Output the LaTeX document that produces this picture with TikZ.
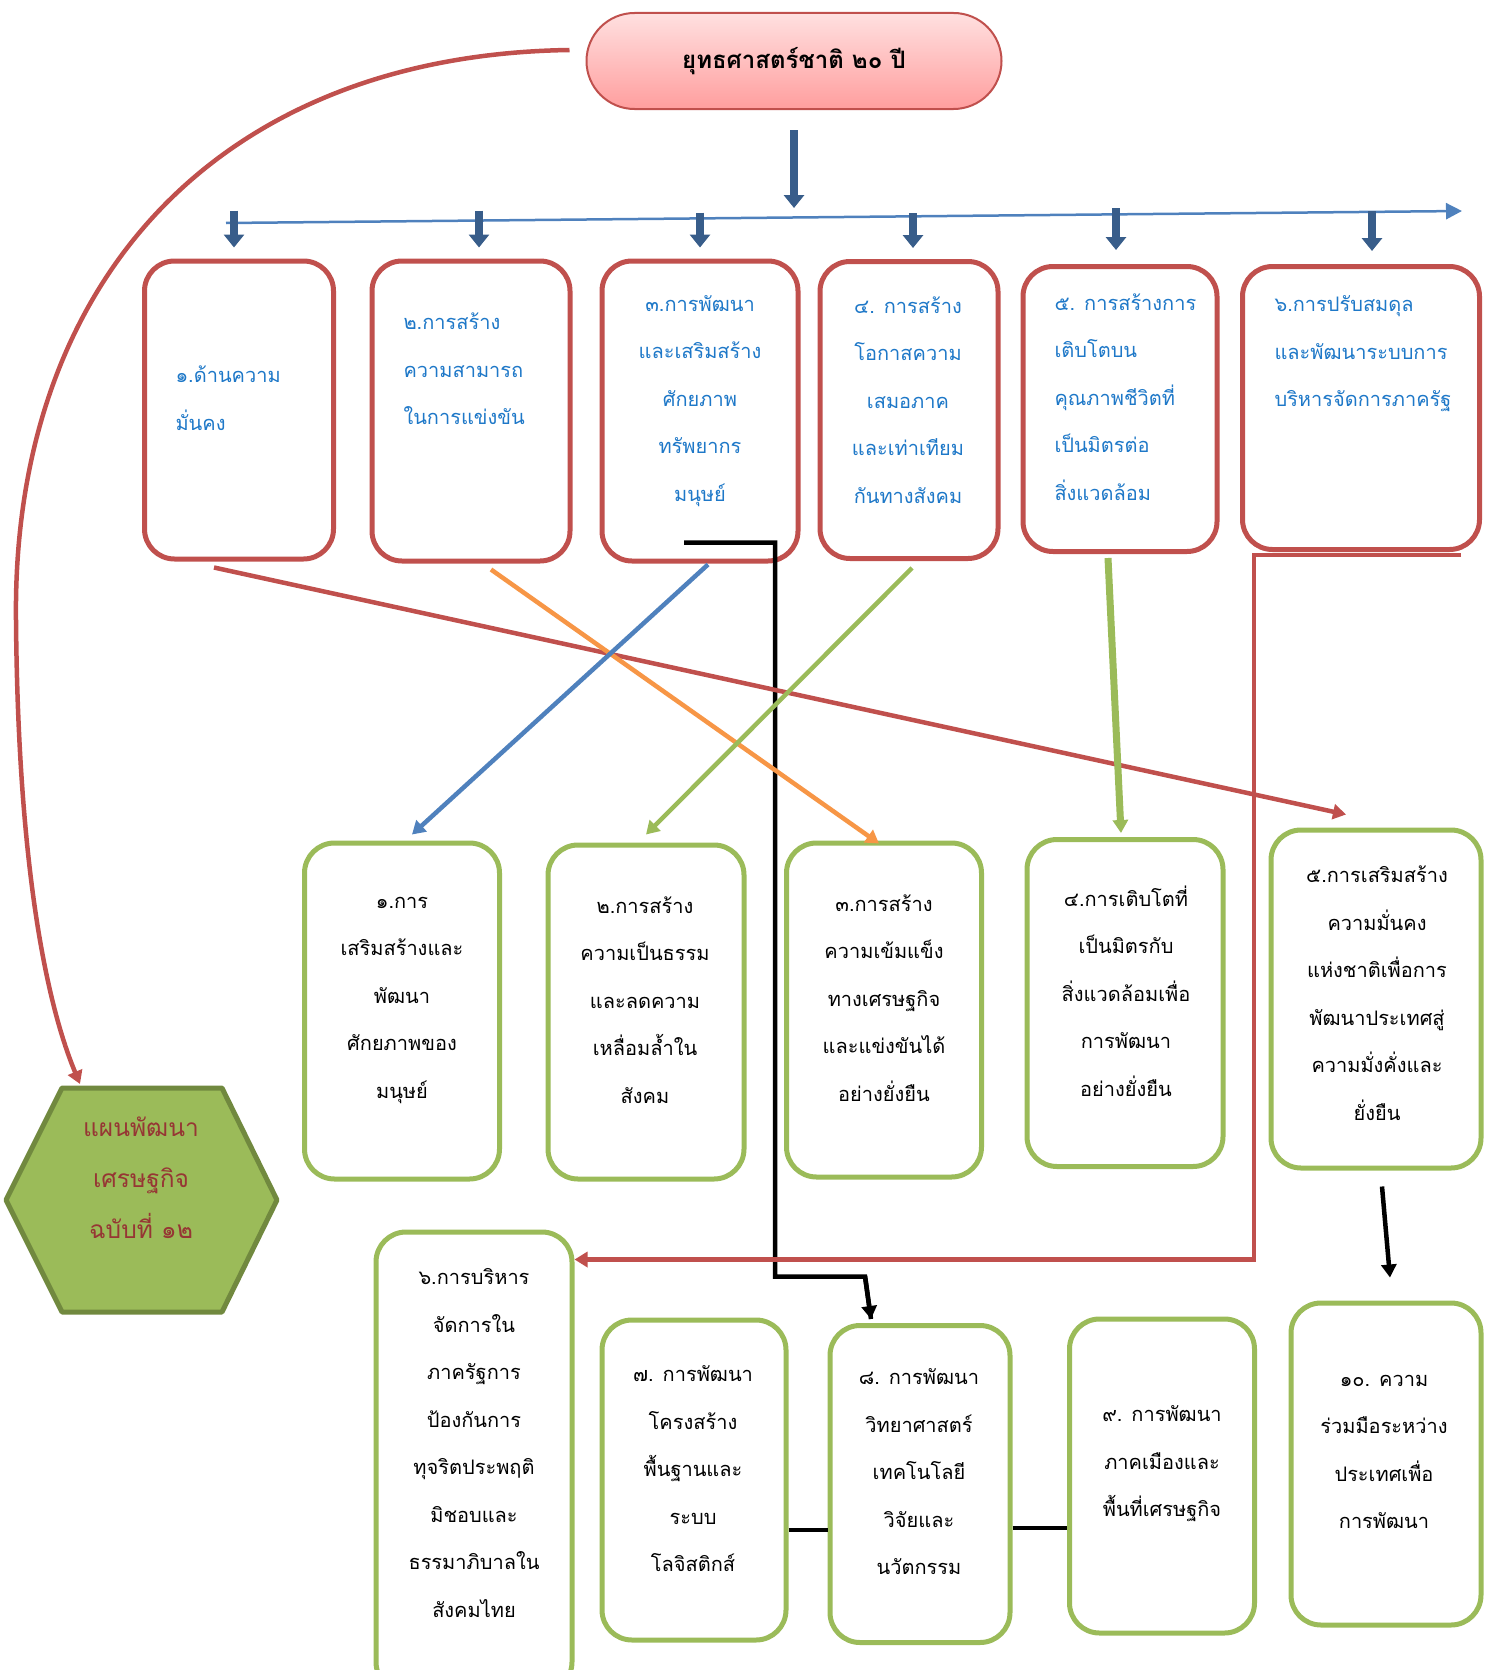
\documentclass[tikz,border=0pt]{standalone}
\usepackage{fontspec}
\newfontfamily\thaifont[Script=Thai]{Loma}
\usetikzlibrary{arrows.meta}
\definecolor{boxred}{RGB}{192,80,77}
\definecolor{boxgreen}{RGB}{155,187,89}
\definecolor{hexborder}{RGB}{113,137,63}
\definecolor{hexword}{RGB}{150,54,52}
\definecolor{lineblue}{RGB}{79,129,189}
\definecolor{arrowblue}{RGB}{56,93,138}
\definecolor{wordblue}{RGB}{30,120,200}
\definecolor{lineorange}{RGB}{247,150,70}
\definecolor{pinktop}{RGB}{255,224,224}
\definecolor{pinkbottom}{RGB}{255,158,158}
\begin{document}
\begin{tikzpicture}[x=1pt,y=-1pt,
	redbox/.style={draw=boxred,line width=5pt,rounded corners=30pt,fill=white,inner sep=0pt},
	greenbox/.style={draw=boxgreen,line width=5pt,rounded corners=30pt,fill=white,inner sep=0pt},
	bluetext/.style={text=wordblue,font=\thaifont\fontsize{20}{47.5}\selectfont},
	blacktext/.style={text=black,align=center,font=\thaifont\fontsize{20}{47.5}\selectfont},
	downarrow/.style={draw=arrowblue,line width=8pt,-{Triangle[width=20pt,length=13pt]}},
	link/.style={line width=4.5pt,-{Triangle[width=15pt,length=13pt]}},
	blackline/.style={line width=4.5pt,draw=black}]
	\path[use as bounding box] (0,0) rectangle (1494,1670);
	\node[draw=boxred,line width=2pt,rounded corners=48pt,top color=pinktop,bottom color=pinkbottom,
		minimum width=415pt,minimum height=96pt,font=\thaifont\bfseries\fontsize{24}{30}\selectfont] (pill) at (794,61) {ยุทธศาสตร์ชาติ ๒๐ ปี};
	\node[redbox,minimum width=189pt,minimum height=298pt] (s1) at (239,410) {};
	\node[redbox,minimum width=198pt,minimum height=300pt] (s2) at (471,411) {};
	\node[redbox,minimum width=196pt,minimum height=300pt] (s3) at (700,411) {};
	\node[redbox,minimum width=178pt,minimum height=297pt] (s4) at (909,410) {};
	\node[redbox,minimum width=194pt,minimum height=285pt] (s5) at (1120,409) {};
	\node[redbox,minimum width=237pt,minimum height=283pt] (s6) at (1361,408) {};
	\node[bluetext,align=left,anchor=west] (s1t) at (172,398) {๑.ด้านความ\\มั่นคง};
	\node[bluetext,align=left,anchor=west] (s2t) at (400,369) {๒.การสร้าง\\ความสามารถ\\ในการแข่งขัน};
	\node[bluetext,align=center] (s3t) at (700,401) {๓.การพัฒนา\\และเสริมสร้าง\\ศักยภาพ\\ทรัพยากร\\มนุษย์};
	\node[bluetext,align=center] (s4t) at (908,400) {๔. การสร้าง\\โอกาสความ\\เสมอภาค\\และเท่าเทียม\\กันทางสังคม};
	\node[bluetext,align=left,anchor=west] (s5t) at (1051,397) {๕. การสร้างการ\\เติบโตบน\\คุณภาพชีวิตที่\\เป็นมิตรต่อ\\สิ่งแวดล้อม};
	\node[bluetext,align=left,anchor=west] (s6t) at (1271,354) {๖.การปรับสมดุล\\และพัฒนาระบบการ\\บริหารจัดการภาครัฐ};
	\node[greenbox,minimum width=195pt,minimum height=336pt] (m1) at (402,1011) {};
	\node[greenbox,minimum width=196pt,minimum height=334pt] (m2) at (646,1012) {};
	\node[greenbox,minimum width=195pt,minimum height=334pt] (m3) at (884,1010) {};
	\node[greenbox,minimum width=196pt,minimum height=327pt] (m4) at (1125,1003) {};
	\node[greenbox,minimum width=210pt,minimum height=338pt] (m5) at (1376,999) {};
	\node[blacktext] (m1t) at (402,1000) {๑.การ\\เสริมสร้างและ\\พัฒนา\\ศักยภาพของ\\มนุษย์};
	\node[blacktext] (m2t) at (645,1000) {๒.การสร้าง\\ความเป็นธรรม\\และลดความ\\เหลื่อมล้ำใน\\สังคม};
	\node[blacktext] (m3t) at (884,998) {๓.การสร้าง\\ความเข้มแข็ง\\ทางเศรษฐกิจ\\และแข่งขันได้\\อย่างยั่งยืน};
	\node[blacktext] (m4t) at (1126,991) {๔.การเติบโตที่\\เป็นมิตรกับ\\สิ่งแวดล้อมเพื่อ\\การพัฒนา\\อย่างยั่งยืน};
	\node[blacktext] (m5t) at (1377,993) {๕.การเสริมสร้าง\\ความมั่นคง\\แห่งชาติเพื่อการ\\พัฒนาประเทศสู่\\ความมั่งคั่งและ\\ยั่งยืน};
	\node[greenbox,minimum width=196pt,minimum height=460pt] (b6) at (474,1462) {};
	\node[greenbox,minimum width=184pt,minimum height=320pt] (b7) at (694,1480) {};
	\node[greenbox,minimum width=180pt,minimum height=317pt] (b8) at (920,1484) {};
	\node[greenbox,minimum width=185pt,minimum height=314pt] (b9) at (1162,1476) {};
	\node[greenbox,minimum width=190pt,minimum height=322pt] (b10) at (1386,1464) {};
	\node[blacktext] (b6t) at (474,1443) {๖.การบริหาร\\จัดการใน\\ภาครัฐการ\\ป้องกันการ\\ทุจริตประพฤติ\\มิชอบและ\\ธรรมาภิบาลใน\\สังคมไทย};
	\node[blacktext] (b7t) at (693,1469) {๗. การพัฒนา\\โครงสร้าง\\พื้นฐานและ\\ระบบ\\โลจิสติกส์};
	\node[blacktext] (b8t) at (919,1472) {๘. การพัฒนา\\วิทยาศาสตร์\\เทคโนโลยี\\วิจัยและ\\นวัตกรรม};
	\node[blacktext] (b9t) at (1162,1464) {๙. การพัฒนา\\ภาคเมืองและ\\พื้นที่เศรษฐกิจ};
	\node[blacktext] (b10t) at (1384,1452) {๑๐. ความ\\ร่วมมือระหว่าง\\ประเทศเพื่อ\\การพัฒนา};
	\draw[draw=hexborder,fill=boxgreen,line width=5pt,line join=round] (62,1088) -- (222,1088) -- (277,1200) -- (222,1312) -- (62,1312) -- (6,1200) -- cycle;
	\node[text=hexword,align=center,font=\thaifont\fontsize{24.5}{51}\selectfont] (hex) at (141,1178) {แผนพัฒนา\\เศรษฐกิจ\\ฉบับที่ ๑๒};
	\coordinate (hextop) at (80,1084);
	\coordinate (lineleft) at (226,223);
	\coordinate (lineright) at (1462,211);
	\draw[draw=lineblue,line width=2.5pt,-{Triangle[width=16pt,length=16pt]}] (lineleft) -- (lineright);
	\draw[downarrow] ([yshift=-20pt]pill.south) -- ([yshift=-98pt]pill.south);
	\draw[downarrow] ([xshift=-5pt,yshift=48pt]s1.north) -- ([xshift=-5pt,yshift=11pt]s1.north);
	\draw[downarrow] ([xshift=8pt,yshift=48pt]s2.north) -- ([xshift=8pt,yshift=11pt]s2.north);
	\draw[downarrow] ([yshift=46pt]s3.north) -- ([yshift=11pt]s3.north);
	\draw[downarrow] ([xshift=4pt,yshift=46pt]s4.north) -- ([xshift=4pt,yshift=11pt]s4.north);
	\draw[downarrow] ([xshift=-4pt,yshift=56pt]s5.north) -- ([xshift=-4pt,yshift=14pt]s5.north);
	\draw[downarrow] ([xshift=11pt,yshift=53pt]s6.north) -- ([xshift=11pt,yshift=13pt]s6.north);
	\draw[link,draw=boxred] ([xshift=-16pt,yshift=11pt]pill.west) .. controls (220,55) and (12,280) .. (16,620) .. controls (18,860) and (45,1000) .. (hextop);
	\draw[blackline,line join=miter] ([xshift=-16pt,yshift=21pt]s3.south) -- ++(91,0) |- ++(90,734) -- ([xshift=-49pt,yshift=4pt]b8.north);
	\draw[blackline,-{Triangle[width=15pt,length=13pt]}] ([xshift=-49pt,yshift=4pt]b8.north) ++(-6,-43) -- ([xshift=-49pt,yshift=4pt]b8.north);
	\draw[link,draw=boxred] ([xshift=-25pt,yshift=-6pt]s1.south) -- ([xshift=-30pt,yshift=13pt]m5.north);
	\draw[link,draw=lineorange] ([xshift=20pt,yshift=-6pt]s2.south) -- ([xshift=-5pt,yshift=-3pt]m3.north);
	\draw[link,draw=lineblue] ([xshift=8pt,yshift=-1pt]s3.south) -- ([xshift=10pt,yshift=6pt]m1.north);
	\draw[link,draw=boxgreen] ([xshift=3pt,yshift=-7pt]s4.south) -- ([yshift=8pt]m2.north);
	\draw[link,draw=boxgreen,line width=7pt] ([xshift=-12pt,yshift=-4pt]s5.south) -- ([xshift=-4pt,yshift=4pt]m4.north);
	\draw[link,draw=boxred,line join=miter] ([xshift=-21pt,yshift=-3pt]s6.south east) -- ++(-207,0) |- ([yshift=-30pt]b6.north east);
	\draw[link,draw=black] ([xshift=6pt,yshift=-16pt]m5.south) -- ([xshift=4pt,yshift=23pt]b10.north);
	\draw[blackline] ([yshift=-50pt]b7.east) -- ([yshift=-46pt]b8.west);
	\draw[blackline] ([yshift=-44pt]b8.east) -- ([yshift=-52pt]b9.west);
\end{tikzpicture}
\end{document}
